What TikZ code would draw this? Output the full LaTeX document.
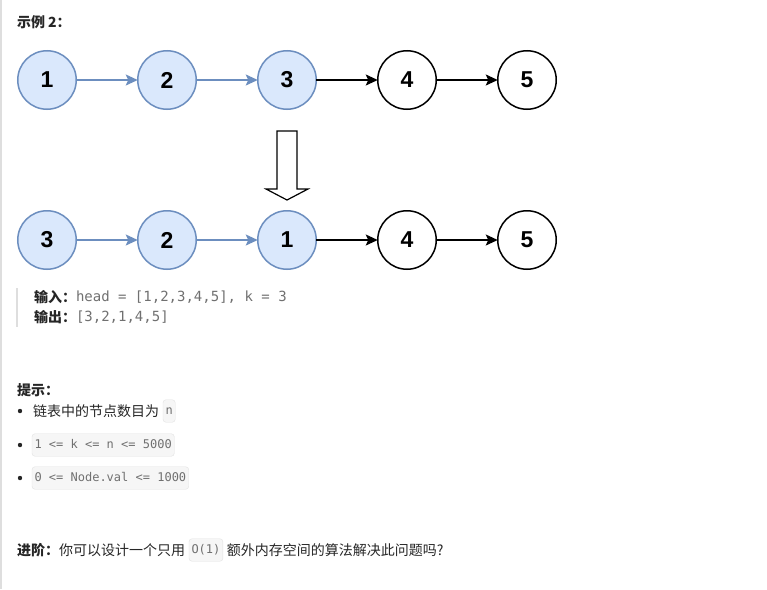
\documentclass[tikz,border=0pt]{standalone}
\usepackage{fontspec}
\setmainfont{Noto Sans CJK SC}
\newfontfamily\numfont{Liberation Sans}
\newfontfamily\codefont{DejaVu Sans Mono}
\usetikzlibrary{arrows.meta,positioning}
\definecolor{softblue}{RGB}{218,232,252}
\definecolor{edgeblue}{RGB}{108,142,191}
\definecolor{textdark}{RGB}{38,38,38}
\definecolor{codegray}{RGB}{112,112,112}
\definecolor{codebg}{RGB}{246,246,246}
\definecolor{codeline}{RGB}{226,226,226}
\definecolor{sidebar}{RGB}{222,222,222}

\begin{document}
\begin{tikzpicture}[x=1pt,y=-1pt,node distance=61.5pt,
  every node/.style={inner sep=0pt,outer sep=0pt},
  ln/.style={circle,draw=edgeblue,fill=softblue,line width=1.5pt,minimum size=58.5pt,font=\numfont\bfseries\fontsize{23}{23}\selectfont},
  lnw/.style={ln,draw=black,fill=white},
  bl/.style={-{Stealth[length=12pt,width=11pt,inset=2.5pt]},edgeblue,line width=1.5pt},
  bk/.style={bl,draw=black},
  txt/.style={text=textdark,font=\fontsize{14}{14}\selectfont},
  txtb/.style={text=textdark,font=\bfseries\fontsize{14}{14}\selectfont},
  codetxt/.style={text=codegray,font=\codefont\fontsize{14}{14}\selectfont},
  codebox/.style={draw=codeline,fill=codebg,rounded corners=3pt,inner xsep=2.5pt,text height=9.5pt,text depth=3pt,inner ysep=5pt,text=codegray,font=\codefont\fontsize{12}{12}\selectfont}]
\useasboundingbox (0,0) rectangle (767,589);
\fill[white] (0,0) rectangle (767,589);
\draw[sidebar,line width=2pt] (1,0) -- (1,589);
% title
\node[txtb,anchor=west] (title) at (17,22) {示例 2：};
% list before
\node[ln] (a1) at (47,80) {1};
\node[ln,right=of a1] (a2) {2};
\node[ln,right=of a2] (a3) {3};
\node[lnw,right=of a3] (a4) {4};
\node[lnw,right=of a4] (a5) {5};
\draw[bl] (a1) -- (a2); \draw[bl] (a2) -- (a3);
\draw[bk] (a3) -- (a4); \draw[bk] (a4) -- (a5);
% hollow arrow
\draw[line width=1.2pt,fill=white] (277,131) -- (297,131) -- (297,189) -- (308,189) -- (287,200) -- (266,189) -- (277,189) -- cycle;
% list after
\node[ln] (b1) at (47,240) {3};
\node[ln,right=of b1] (b2) {2};
\node[ln,right=of b2] (b3) {1};
\node[lnw,right=of b3] (b4) {4};
\node[lnw,right=of b4] (b5) {5};
\draw[bl] (b1) -- (b2); \draw[bl] (b2) -- (b3);
\draw[bk] (b3) -- (b4); \draw[bk] (b4) -- (b5);
% input / output
\draw[sidebar,line width=2pt] (17,288) -- (17,327);
\node[txtb,anchor=west] (inlab) at (34,297) {输入：};
\node[codetxt,right=0pt of inlab] (inval) {head = [1,2,3,4,5], k = 3};
\node[txtb,anchor=west] (outlab) at (34,317) {输出：};
\node[codetxt,right=0pt of outlab] (outval) {[3,2,1,4,5]};
% hints
\node[txtb,anchor=west] (hint) at (17,390) {提示：};
\fill[textdark] (20,411) circle (2.2pt) (20,445) circle (2.2pt) (20,478) circle (2.2pt);
\node[txt,anchor=west] (tip1) at (33,411) {链表中的节点数目为};
\node[codebox,right=4pt of tip1] (tipn) {n};
\node[codebox,anchor=west] (tip2) at (32,445) {1 <= k <= n <= 5000};
\node[codebox,anchor=west] (tip3) at (32,478) {0 <= Node.val <= 1000};
% follow-up
\node[txtb,anchor=west] (adv) at (17,550) {进阶：};
\node[txt,right=0pt of adv] (adv1) {你可以设计一个只用};
\node[codebox,right=4pt of adv1] (adv2) {O(1)};
\node[txt,right=4pt of adv2] (adv3) {额外内存空间的算法解决此问题吗?};
\end{tikzpicture}
\end{document}
